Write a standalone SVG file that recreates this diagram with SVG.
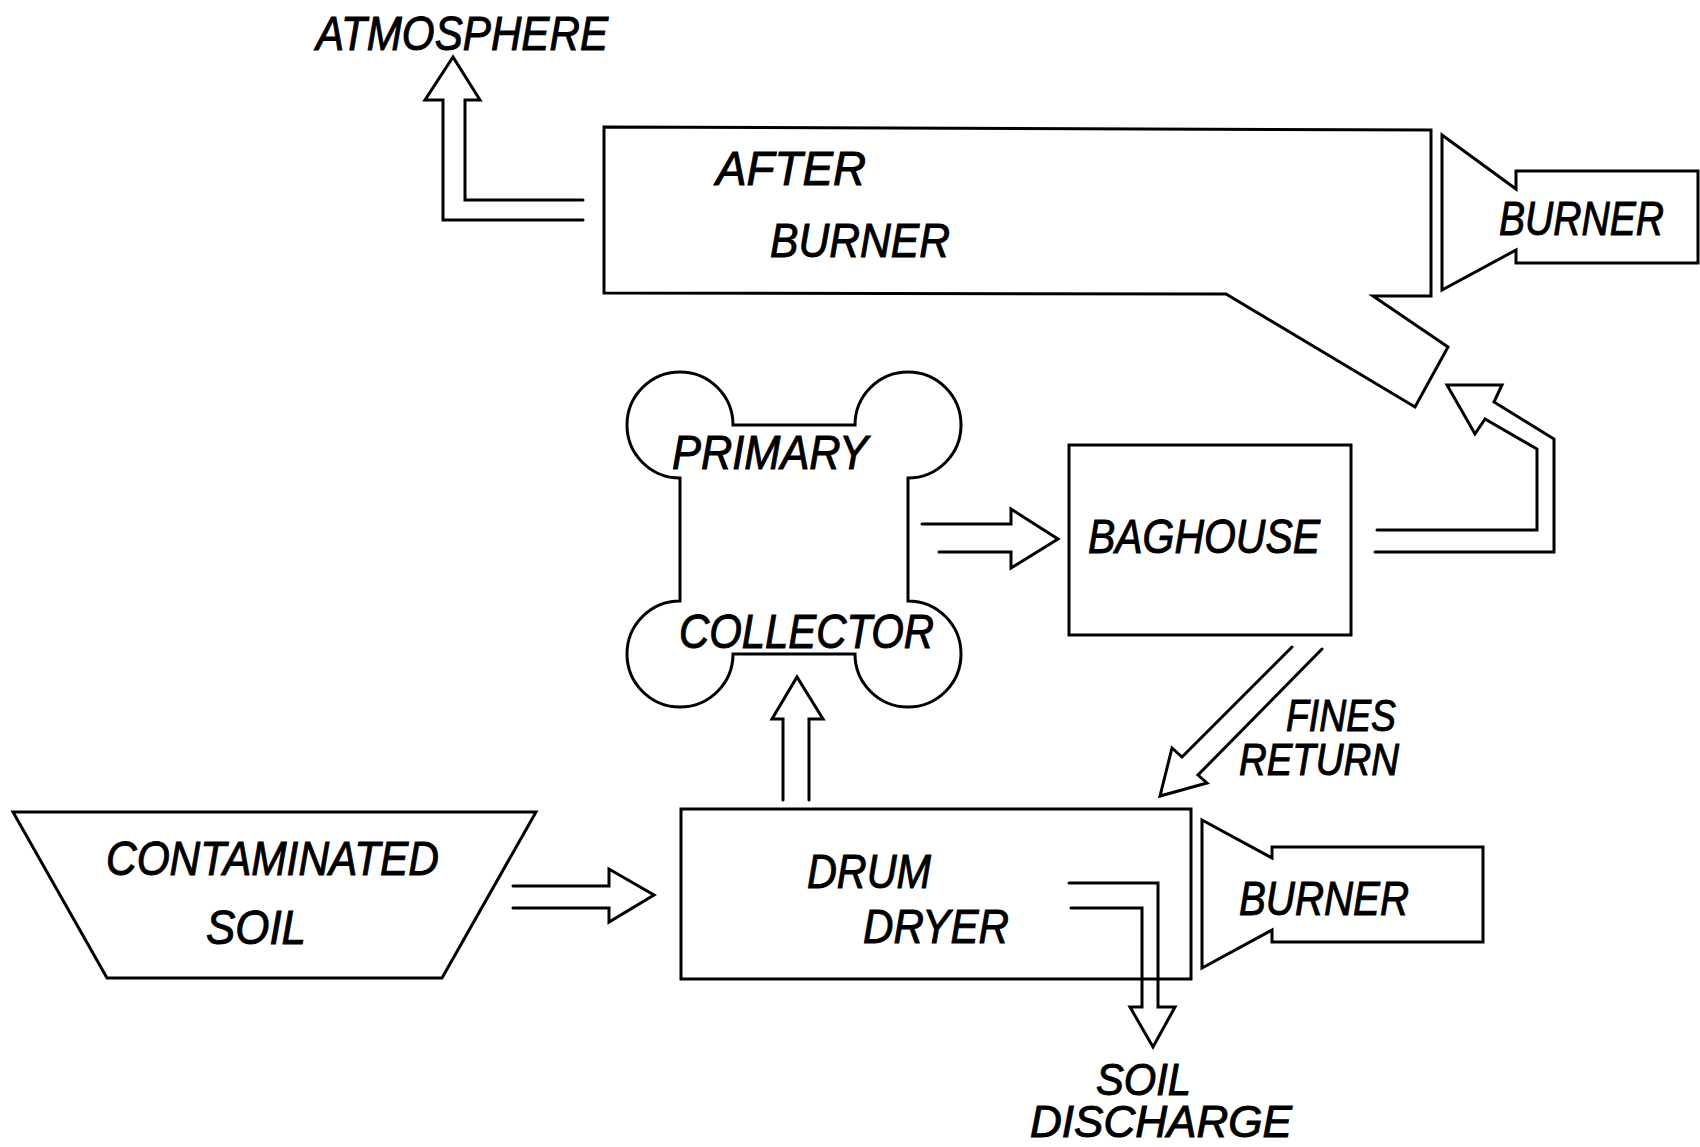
<svg xmlns="http://www.w3.org/2000/svg" width="1700" height="1147" viewBox="0 0 1700 1147">
<style>
.o{fill:none;stroke:#000;stroke-width:3;stroke-linejoin:miter;stroke-linecap:round}
.s{fill:#fff;stroke:#000;stroke-width:3;stroke-linejoin:miter}
.t{font-family:"Liberation Sans",Arial,sans-serif;font-style:italic;font-size:48px;fill:#000;stroke:#000;stroke-width:1}
.sm{font-size:44px}
</style>
<rect width="1700" height="1147" fill="#fff"/>
<g id="connectors">
<polyline class="o" points="583,200 465,200 465,100 480,100 453,57 425,100 443,100 443,220 583,220"/>
<polyline class="o" points="922,524 1011,524 1011,509 1058,539 1011,568 1011,552 939,552"/>
<polyline class="o" points="1377,530 1537,530 1537,449 1485,419 1475,434 1447,385 1502,385 1494,402 1554,439 1554,552 1375,552"/>
<polyline class="o" points="1292,647 1182,757 1172,748 1160,796 1207,783 1198,775 1322,649"/>
<polyline class="o" points="783,800 783,719 772,719 797,677 823,719 809,719 809,800"/>
<polyline class="o" points="513,886 609,886 609,869 654,895 609,922 609,908 513,908"/>
<polyline class="o" points="1069,883 1158,883 1158,1007 1175,1007 1153,1047 1130,1007 1142,1007 1142,908 1071,908"/>
</g>
<g id="afterburner">
<polygon class="s" points="604,127 1431,130 1431,296 1373,296 1448,347 1415,407 1226,294 604,293"/>
<text class="t" x="716" y="185" textLength="150" lengthAdjust="spacingAndGlyphs">AFTER</text>
<text class="t" x="770" y="257" textLength="180" lengthAdjust="spacingAndGlyphs">BURNER</text>
</g>
<g id="burner-top">
<polygon class="s" points="1442,135 1516,189 1516,171 1698,171 1698,263 1516,263 1516,250 1442,290"/>
<text class="t" x="1499" y="235" textLength="165" lengthAdjust="spacingAndGlyphs">BURNER</text>
</g>
<g id="primary-collector">
<path class="s" d="M733,425 A53,53 0 1 0 680,478 L680,601 A53,53 0 1 0 733,654 L855,654 A53,53 0 1 0 908,601 L908,478 A53,53 0 1 0 855,425 Z"/>
<text class="t" x="672" y="469" textLength="196" lengthAdjust="spacingAndGlyphs">PRIMARY</text>
<text class="t" x="679" y="648" textLength="255" lengthAdjust="spacingAndGlyphs">COLLECTOR</text>
</g>
<g id="baghouse">
<rect class="s" x="1069" y="445" width="282" height="190"/>
<text class="t" x="1088" y="553" textLength="232" lengthAdjust="spacingAndGlyphs">BAGHOUSE</text>
</g>
<g id="fines-label">
<text class="t sm" x="1286" y="731" textLength="110" lengthAdjust="spacingAndGlyphs">FINES</text>
<text class="t sm" x="1239" y="775" textLength="160" lengthAdjust="spacingAndGlyphs">RETURN</text>
</g>
<g id="drum-dryer">
<rect class="o" x="681" y="809" width="510" height="170"/>
<text class="t" x="807" y="888" textLength="124" lengthAdjust="spacingAndGlyphs">DRUM</text>
<text class="t" x="863" y="943" textLength="146" lengthAdjust="spacingAndGlyphs">DRYER</text>
</g>
<g id="burner-drum">
<polygon class="s" points="1202,820 1272,858 1272,847 1483,847 1483,942 1272,942 1272,930 1202,968"/>
<text class="t" x="1239" y="915" textLength="170" lengthAdjust="spacingAndGlyphs">BURNER</text>
</g>
<g id="contaminated-soil">
<polygon class="s" points="13,812 536,812 442,978 107,978"/>
<text class="t" x="106" y="875" textLength="333" lengthAdjust="spacingAndGlyphs">CONTAMINATED</text>
<text class="t" x="206" y="944" textLength="100" lengthAdjust="spacingAndGlyphs">SOIL</text>
</g>
<g id="atmosphere">
<text class="t" x="316" y="50" textLength="292" lengthAdjust="spacingAndGlyphs">ATMOSPHERE</text>
</g>
<g id="soil-discharge">
<text class="t sm" x="1096" y="1095" textLength="95" lengthAdjust="spacingAndGlyphs">SOIL</text>
<text class="t sm" x="1030" y="1137" textLength="262" lengthAdjust="spacingAndGlyphs">DISCHARGE</text>
</g>
</svg>
